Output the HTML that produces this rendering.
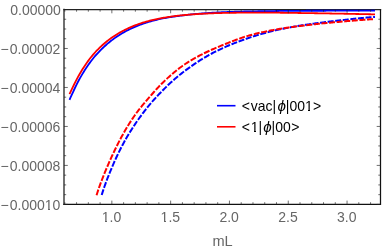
<!DOCTYPE html>
<html><head><meta charset="utf-8"><title>plot</title>
<style>html,body{margin:0;padding:0;background:#fff;}svg{display:block;will-change:transform;}</style></head>
<body>
<svg width="382" height="250" viewBox="0 0 382 250">
<rect width="382" height="250" fill="#fff"/>
<!-- frame -->
<path d="M64.0,204.4 V9.5" stroke="#222222" stroke-width="1.3" fill="none" stroke-linecap="square"/>
<path d="M64.0,9.5 H380.5" stroke="#222222" stroke-width="1.25" fill="none" stroke-linecap="square"/>
<path d="M64.0,204.4 H380.5 V9.5" stroke="#111111" stroke-width="1.25" fill="none" stroke-linecap="square"/>
<!-- data curves -->
<g fill="none" stroke-width="1.8" stroke-linejoin="round">
<path d="M69.50,99.77 L70.68,97.22 L71.86,94.64 L73.04,92.06 L74.22,89.50 L75.40,87.00 L76.58,84.57 L77.76,82.25 L78.94,80.03 L80.12,77.89 L81.30,75.84 L82.47,73.85 L83.65,71.92 L84.83,70.06 L86.01,68.25 L87.19,66.49 L88.37,64.79 L89.55,63.13 L90.73,61.53 L91.91,59.98 L93.09,58.48 L94.27,57.04 L95.45,55.65 L96.63,54.31 L97.81,53.02 L98.99,51.77 L100.17,50.56 L101.35,49.39 L102.53,48.24 L103.71,47.12 L104.89,46.03 L106.07,44.97 L107.25,43.94 L108.42,42.93 L109.60,41.96 L110.78,41.01 L111.96,40.10 L113.14,39.21 L114.32,38.36 L115.50,37.53 L116.68,36.73 L117.86,35.95 L119.04,35.19 L120.22,34.46 L121.40,33.75 L122.58,33.05 L123.76,32.38 L124.94,31.72 L126.12,31.08 L127.30,30.46 L128.48,29.86 L129.66,29.27 L130.84,28.71 L132.02,28.15 L133.19,27.62 L134.37,27.10 L135.55,26.60 L136.73,26.11 L137.91,25.63 L139.09,25.17 L140.27,24.73 L141.45,24.30 L142.63,23.88 L143.81,23.47 L144.99,23.08 L146.17,22.70 L147.35,22.33 L148.53,21.97 L149.71,21.62 L150.89,21.29 L152.07,20.96 L153.25,20.65 L154.43,20.34 L155.61,20.05 L156.79,19.76 L157.97,19.48 L159.14,19.22 L160.32,18.96 L161.50,18.71 L162.68,18.47 L163.86,18.24 L165.04,18.02 L166.22,17.81 L167.40,17.60 L168.58,17.41 L169.76,17.21 L170.94,17.03 L172.12,16.85 L173.30,16.68 L174.48,16.51 L175.66,16.34 L176.84,16.18 L178.02,16.02 L179.20,15.86 L180.38,15.71 L181.56,15.56 L182.74,15.41 L183.92,15.27 L185.09,15.12 L186.27,14.99 L187.45,14.85 L188.63,14.72 L189.81,14.59 L190.99,14.46 L192.17,14.34 L193.35,14.22 L194.53,14.10 L195.71,13.99 L196.89,13.89 L198.07,13.78 L199.25,13.68 L200.43,13.59 L201.61,13.49 L202.79,13.40 L203.97,13.31 L205.15,13.23 L206.33,13.14 L207.51,13.06 L208.69,12.99 L209.86,12.91 L211.04,12.83 L212.22,12.76 L213.40,12.69 L214.58,12.62 L215.76,12.55 L216.94,12.49 L218.12,12.43 L219.30,12.37 L220.48,12.31 L221.66,12.25 L222.84,12.19 L224.02,12.14 L225.20,12.09 L226.38,12.04 L227.56,12.00 L228.74,11.95 L229.92,11.91 L231.10,11.87 L232.28,11.83 L233.46,11.79 L234.64,11.76 L235.81,11.72 L236.99,11.69 L238.17,11.66 L239.35,11.63 L240.53,11.60 L241.71,11.57 L242.89,11.55 L244.07,11.52 L245.25,11.49 L246.43,11.47 L247.61,11.45 L248.79,11.43 L249.97,11.40 L251.15,11.38 L252.33,11.36 L253.51,11.34 L254.69,11.32 L255.87,11.31 L257.05,11.29 L258.23,11.27 L259.41,11.25 L260.58,11.23 L261.76,11.22 L262.94,11.20 L264.12,11.18 L265.30,11.17 L266.48,11.15 L267.66,11.13 L268.84,11.11 L270.02,11.10 L271.20,11.08 L272.38,11.06 L273.56,11.05 L274.74,11.03 L275.92,11.02 L277.10,11.00 L278.28,10.99 L279.46,10.97 L280.64,10.96 L281.82,10.94 L283.00,10.93 L284.18,10.92 L285.36,10.90 L286.53,10.89 L287.71,10.88 L288.89,10.87 L290.07,10.86 L291.25,10.85 L292.43,10.84 L293.61,10.83 L294.79,10.83 L295.97,10.82 L297.15,10.81 L298.33,10.81 L299.51,10.80 L300.69,10.79 L301.87,10.79 L303.05,10.78 L304.23,10.78 L305.41,10.78 L306.59,10.77 L307.77,10.77 L308.95,10.77 L310.13,10.76 L311.31,10.76 L312.48,10.76 L313.66,10.75 L314.84,10.75 L316.02,10.75 L317.20,10.74 L318.38,10.74 L319.56,10.74 L320.74,10.74 L321.92,10.73 L323.10,10.73 L324.28,10.73 L325.46,10.73 L326.64,10.72 L327.82,10.72 L329.00,10.72 L330.18,10.72 L331.36,10.71 L332.54,10.71 L333.72,10.71 L334.90,10.71 L336.08,10.70 L337.25,10.70 L338.43,10.70 L339.61,10.70 L340.79,10.70 L341.97,10.69 L343.15,10.69 L344.33,10.69 L345.51,10.69 L346.69,10.69 L347.87,10.69 L349.05,10.69 L350.23,10.68 L351.41,10.68 L352.59,10.68 L353.77,10.68 L354.95,10.68 L356.13,10.68 L357.31,10.68 L358.49,10.68 L359.67,10.68 L360.85,10.68 L362.03,10.68 L363.20,10.68 L364.38,10.68 L365.56,10.68 L366.74,10.68 L367.92,10.68 L369.10,10.68 L370.28,10.68 L371.46,10.69 L372.64,10.69 L373.82,10.69 L375.00,10.69" stroke="#0000ff"/>
<path d="M69.50,94.02 L70.68,91.58 L71.86,89.13 L73.04,86.68 L74.22,84.26 L75.40,81.89 L76.58,79.59 L77.76,77.38 L78.94,75.25 L80.12,73.20 L81.30,71.22 L82.47,69.31 L83.65,67.46 L84.83,65.67 L86.01,63.93 L87.19,62.26 L88.37,60.63 L89.55,59.06 L90.73,57.55 L91.91,56.08 L93.09,54.67 L94.27,53.31 L95.45,52.00 L96.63,50.73 L97.81,49.52 L98.99,48.34 L100.17,47.20 L101.35,46.10 L102.53,45.03 L103.71,43.99 L104.89,42.98 L106.07,41.99 L107.25,41.04 L108.42,40.12 L109.60,39.22 L110.78,38.35 L111.96,37.52 L113.14,36.71 L114.32,35.93 L115.50,35.17 L116.68,34.44 L117.86,33.73 L119.04,33.04 L120.22,32.37 L121.40,31.72 L122.58,31.08 L123.76,30.46 L124.94,29.86 L126.12,29.28 L127.30,28.71 L128.48,28.15 L129.66,27.62 L130.84,27.10 L132.02,26.59 L133.19,26.11 L134.37,25.63 L135.55,25.18 L136.73,24.74 L137.91,24.31 L139.09,23.89 L140.27,23.50 L141.45,23.11 L142.63,22.73 L143.81,22.37 L144.99,22.02 L146.17,21.69 L147.35,21.36 L148.53,21.04 L149.71,20.73 L150.89,20.44 L152.07,20.15 L153.25,19.87 L154.43,19.60 L155.61,19.34 L156.79,19.09 L157.97,18.85 L159.14,18.61 L160.32,18.38 L161.50,18.16 L162.68,17.95 L163.86,17.74 L165.04,17.54 L166.22,17.35 L167.40,17.16 L168.58,16.98 L169.76,16.81 L170.94,16.64 L172.12,16.47 L173.30,16.31 L174.48,16.16 L175.66,16.01 L176.84,15.87 L178.02,15.73 L179.20,15.60 L180.38,15.47 L181.56,15.35 L182.74,15.23 L183.92,15.11 L185.09,15.00 L186.27,14.89 L187.45,14.79 L188.63,14.69 L189.81,14.59 L190.99,14.50 L192.17,14.41 L193.35,14.33 L194.53,14.24 L195.71,14.16 L196.89,14.09 L198.07,14.01 L199.25,13.94 L200.43,13.87 L201.61,13.80 L202.79,13.74 L203.97,13.68 L205.15,13.62 L206.33,13.56 L207.51,13.51 L208.69,13.46 L209.86,13.41 L211.04,13.36 L212.22,13.31 L213.40,13.27 L214.58,13.22 L215.76,13.18 L216.94,13.14 L218.12,13.11 L219.30,13.07 L220.48,13.04 L221.66,13.00 L222.84,12.97 L224.02,12.94 L225.20,12.92 L226.38,12.89 L227.56,12.86 L228.74,12.84 L229.92,12.82 L231.10,12.80 L232.28,12.78 L233.46,12.76 L234.64,12.74 L235.81,12.73 L236.99,12.71 L238.17,12.70 L239.35,12.68 L240.53,12.67 L241.71,12.66 L242.89,12.65 L244.07,12.64 L245.25,12.63 L246.43,12.62 L247.61,12.61 L248.79,12.60 L249.97,12.60 L251.15,12.59 L252.33,12.59 L253.51,12.58 L254.69,12.58 L255.87,12.58 L257.05,12.58 L258.23,12.58 L259.41,12.58 L260.58,12.58 L261.76,12.58 L262.94,12.58 L264.12,12.59 L265.30,12.59 L266.48,12.60 L267.66,12.60 L268.84,12.61 L270.02,12.62 L271.20,12.63 L272.38,12.64 L273.56,12.65 L274.74,12.66 L275.92,12.68 L277.10,12.69 L278.28,12.70 L279.46,12.72 L280.64,12.73 L281.82,12.75 L283.00,12.76 L284.18,12.78 L285.36,12.80 L286.53,12.81 L287.71,12.83 L288.89,12.84 L290.07,12.86 L291.25,12.88 L292.43,12.89 L293.61,12.91 L294.79,12.93 L295.97,12.94 L297.15,12.96 L298.33,12.98 L299.51,13.00 L300.69,13.01 L301.87,13.03 L303.05,13.05 L304.23,13.06 L305.41,13.08 L306.59,13.10 L307.77,13.12 L308.95,13.14 L310.13,13.15 L311.31,13.17 L312.48,13.19 L313.66,13.21 L314.84,13.23 L316.02,13.25 L317.20,13.27 L318.38,13.28 L319.56,13.30 L320.74,13.32 L321.92,13.34 L323.10,13.36 L324.28,13.38 L325.46,13.40 L326.64,13.42 L327.82,13.45 L329.00,13.47 L330.18,13.49 L331.36,13.51 L332.54,13.53 L333.72,13.55 L334.90,13.57 L336.08,13.59 L337.25,13.61 L338.43,13.64 L339.61,13.66 L340.79,13.68 L341.97,13.70 L343.15,13.72 L344.33,13.75 L345.51,13.77 L346.69,13.79 L347.87,13.81 L349.05,13.84 L350.23,13.86 L351.41,13.88 L352.59,13.91 L353.77,13.93 L354.95,13.95 L356.13,13.98 L357.31,14.00 L358.49,14.02 L359.67,14.05 L360.85,14.07 L362.03,14.09 L363.20,14.12 L364.38,14.14 L365.56,14.16 L366.74,14.19 L367.92,14.21 L369.10,14.23 L370.28,14.26 L371.46,14.28 L372.64,14.30 L373.82,14.33 L375.00,14.35" stroke="#ff0000"/>
<path d="M375.00,16.99 L373.94,17.06 L372.89,17.13 L371.83,17.20 L370.77,17.28 L369.72,17.36 L368.66,17.44 L367.60,17.53 L366.55,17.62 L365.49,17.71 L364.43,17.80 L363.38,17.89 L362.32,17.99 L361.26,18.09 L360.21,18.19 L359.15,18.29 L358.09,18.40 L357.04,18.51 L355.98,18.61 L354.92,18.72 L353.86,18.84 L352.81,18.95 L351.75,19.06 L350.69,19.18 L349.64,19.29 L348.58,19.41 L347.52,19.53 L346.47,19.65 L345.41,19.76 L344.35,19.88 L343.30,20.00 L342.24,20.12 L341.18,20.24 L340.13,20.36 L339.07,20.48 L338.01,20.60 L336.96,20.72 L335.90,20.85 L334.84,20.97 L333.79,21.09 L332.73,21.22 L331.67,21.34 L330.62,21.47 L329.56,21.59 L328.50,21.72 L327.45,21.85 L326.39,21.98 L325.33,22.11 L324.28,22.24 L323.22,22.37 L322.16,22.51 L321.11,22.64 L320.05,22.78 L318.99,22.92 L317.94,23.06 L316.88,23.20 L315.82,23.34 L314.76,23.48 L313.71,23.63 L312.65,23.78 L311.59,23.93 L310.54,24.08 L309.48,24.23 L308.42,24.38 L307.37,24.54 L306.31,24.69 L305.25,24.85 L304.20,25.01 L303.14,25.17 L302.08,25.34 L301.03,25.51 L299.97,25.67 L298.91,25.84 L297.86,26.02 L296.80,26.19 L295.74,26.37 L294.69,26.55 L293.63,26.73 L292.57,26.92 L291.52,27.11 L290.46,27.30 L289.40,27.49 L288.35,27.69 L287.29,27.89 L286.23,28.09 L285.18,28.30 L284.12,28.50 L283.06,28.72 L282.01,28.93 L280.95,29.15 L279.89,29.38 L278.84,29.60 L277.78,29.83 L276.72,30.07 L275.66,30.31 L274.61,30.55 L273.55,30.80 L272.49,31.05 L271.44,31.30 L270.38,31.56 L269.32,31.83 L268.27,32.10 L267.21,32.37 L266.15,32.65 L265.10,32.94 L264.04,33.23 L262.98,33.52 L261.93,33.82 L260.87,34.13 L259.81,34.44 L258.76,34.75 L257.70,35.07 L256.64,35.39 L255.59,35.72 L254.53,36.05 L253.47,36.39 L252.42,36.73 L251.36,37.07 L250.30,37.42 L249.25,37.77 L248.19,38.13 L247.13,38.49 L246.08,38.85 L245.02,39.22 L243.96,39.59 L242.91,39.97 L241.85,40.35 L240.79,40.73 L239.74,41.12 L238.68,41.52 L237.62,41.92 L236.56,42.32 L235.51,42.73 L234.45,43.14 L233.39,43.56 L232.34,43.99 L231.28,44.42 L230.22,44.85 L229.17,45.29 L228.11,45.74 L227.05,46.19 L226.00,46.65 L224.94,47.12 L223.88,47.59 L222.83,48.07 L221.77,48.55 L220.71,49.04 L219.66,49.54 L218.60,50.05 L217.54,50.56 L216.49,51.08 L215.43,51.61 L214.37,52.15 L213.32,52.70 L212.26,53.25 L211.20,53.81 L210.15,54.38 L209.09,54.96 L208.03,55.55 L206.98,56.15 L205.92,56.76 L204.86,57.38 L203.81,58.00 L202.75,58.64 L201.69,59.29 L200.64,59.95 L199.58,60.62 L198.52,61.30 L197.46,61.98 L196.41,62.68 L195.35,63.39 L194.29,64.11 L193.24,64.84 L192.18,65.57 L191.12,66.32 L190.07,67.07 L189.01,67.83 L187.95,68.60 L186.90,69.38 L185.84,70.17 L184.78,70.96 L183.73,71.77 L182.67,72.58 L181.61,73.40 L180.56,74.24 L179.50,75.09 L178.44,75.95 L177.39,76.82 L176.33,77.70 L175.27,78.60 L174.22,79.52 L173.16,80.45 L172.10,81.40 L171.05,82.36 L169.99,83.33 L168.93,84.32 L167.88,85.32 L166.82,86.34 L165.76,87.37 L164.71,88.41 L163.65,89.46 L162.59,90.52 L161.54,91.60 L160.48,92.68 L159.42,93.78 L158.36,94.89 L157.31,96.02 L156.25,97.16 L155.19,98.31 L154.14,99.49 L153.08,100.68 L152.02,101.89 L150.97,103.12 L149.91,104.37 L148.85,105.63 L147.80,106.92 L146.74,108.23 L145.68,109.56 L144.63,110.92 L143.57,112.29 L142.51,113.69 L141.46,115.10 L140.40,116.55 L139.34,118.01 L138.29,119.50 L137.23,121.01 L136.17,122.55 L135.12,124.11 L134.06,125.69 L133.00,127.30 L131.95,128.93 L130.89,130.59 L129.83,132.29 L128.78,134.01 L127.72,135.78 L126.66,137.58 L125.61,139.42 L124.55,141.31 L123.49,143.24 L122.44,145.22 L121.38,147.24 L120.32,149.31 L119.26,151.41 L118.21,153.57 L117.15,155.77 L116.09,158.01 L115.04,160.31 L113.98,162.66 L112.92,165.06 L111.87,167.53 L110.81,170.05 L109.75,172.63 L108.70,175.26 L107.64,177.95 L106.58,180.70 L105.53,183.54 L104.47,186.50 L103.41,189.62 L102.36,192.92 L101.31,196.40" stroke="#0000ff" stroke-width="2.0" stroke-dasharray="6.0 1.62" stroke-dashoffset="4.1"/>
<path d="M373.00,19.16 L371.93,19.22 L370.86,19.29 L369.79,19.36 L368.73,19.43 L367.66,19.50 L366.59,19.57 L365.52,19.65 L364.45,19.73 L363.38,19.80 L362.31,19.88 L361.24,19.97 L360.18,20.05 L359.11,20.13 L358.04,20.22 L356.97,20.30 L355.90,20.39 L354.83,20.48 L353.76,20.57 L352.69,20.66 L351.63,20.75 L350.56,20.84 L349.49,20.94 L348.42,21.03 L347.35,21.12 L346.28,21.22 L345.21,21.31 L344.14,21.41 L343.08,21.50 L342.01,21.60 L340.94,21.70 L339.87,21.79 L338.80,21.89 L337.73,21.98 L336.66,22.08 L335.59,22.17 L334.53,22.27 L333.46,22.37 L332.39,22.46 L331.32,22.56 L330.25,22.66 L329.18,22.76 L328.11,22.86 L327.04,22.96 L325.98,23.06 L324.91,23.16 L323.84,23.27 L322.77,23.37 L321.70,23.48 L320.63,23.59 L319.56,23.70 L318.49,23.81 L317.43,23.92 L316.36,24.04 L315.29,24.15 L314.22,24.27 L313.15,24.39 L312.08,24.51 L311.01,24.64 L309.95,24.76 L308.88,24.89 L307.81,25.01 L306.74,25.14 L305.67,25.27 L304.60,25.40 L303.53,25.54 L302.46,25.67 L301.40,25.80 L300.33,25.94 L299.26,26.07 L298.19,26.21 L297.12,26.35 L296.05,26.49 L294.98,26.63 L293.91,26.77 L292.85,26.92 L291.78,27.06 L290.71,27.21 L289.64,27.36 L288.57,27.51 L287.50,27.67 L286.43,27.83 L285.36,27.99 L284.30,28.15 L283.23,28.31 L282.16,28.48 L281.09,28.65 L280.02,28.83 L278.95,29.00 L277.88,29.19 L276.81,29.37 L275.75,29.56 L274.68,29.75 L273.61,29.95 L272.54,30.15 L271.47,30.35 L270.40,30.56 L269.33,30.77 L268.26,30.98 L267.20,31.20 L266.13,31.42 L265.06,31.65 L263.99,31.88 L262.92,32.11 L261.85,32.34 L260.78,32.58 L259.72,32.82 L258.65,33.07 L257.58,33.32 L256.51,33.58 L255.44,33.84 L254.37,34.11 L253.30,34.38 L252.23,34.66 L251.17,34.95 L250.10,35.24 L249.03,35.54 L247.96,35.85 L246.89,36.16 L245.82,36.48 L244.75,36.82 L243.68,37.16 L242.62,37.51 L241.55,37.87 L240.48,38.24 L239.41,38.61 L238.34,38.99 L237.27,39.38 L236.20,39.78 L235.13,40.18 L234.07,40.59 L233.00,41.00 L231.93,41.41 L230.86,41.83 L229.79,42.25 L228.72,42.67 L227.65,43.10 L226.58,43.52 L225.52,43.95 L224.45,44.38 L223.38,44.81 L222.31,45.24 L221.24,45.67 L220.17,46.11 L219.10,46.55 L218.03,47.00 L216.97,47.44 L215.90,47.90 L214.83,48.35 L213.76,48.82 L212.69,49.28 L211.62,49.76 L210.55,50.24 L209.48,50.73 L208.42,51.22 L207.35,51.72 L206.28,52.23 L205.21,52.74 L204.14,53.27 L203.07,53.80 L202.00,54.33 L200.94,54.88 L199.87,55.43 L198.80,56.00 L197.73,56.57 L196.66,57.15 L195.59,57.73 L194.52,58.33 L193.45,58.94 L192.39,59.56 L191.32,60.19 L190.25,60.83 L189.18,61.48 L188.11,62.15 L187.04,62.83 L185.97,63.53 L184.90,64.24 L183.84,64.97 L182.77,65.71 L181.70,66.48 L180.63,67.26 L179.56,68.05 L178.49,68.87 L177.42,69.70 L176.35,70.55 L175.29,71.41 L174.22,72.29 L173.15,73.19 L172.08,74.10 L171.01,75.02 L169.94,75.96 L168.87,76.92 L167.80,77.88 L166.74,78.87 L165.67,79.87 L164.60,80.88 L163.53,81.92 L162.46,82.97 L161.39,84.03 L160.32,85.12 L159.25,86.23 L158.19,87.35 L157.12,88.50 L156.05,89.66 L154.98,90.85 L153.91,92.04 L152.84,93.26 L151.77,94.48 L150.71,95.71 L149.64,96.95 L148.57,98.19 L147.50,99.43 L146.43,100.68 L145.36,101.92 L144.29,103.18 L143.22,104.45 L142.16,105.73 L141.09,107.03 L140.02,108.36 L138.95,109.71 L137.88,111.10 L136.81,112.52 L135.74,113.98 L134.67,115.48 L133.61,117.01 L132.54,118.59 L131.47,120.19 L130.40,121.84 L129.33,123.52 L128.26,125.24 L127.19,127.00 L126.12,128.79 L125.06,130.62 L123.99,132.49 L122.92,134.39 L121.85,136.34 L120.78,138.32 L119.71,140.34 L118.64,142.40 L117.57,144.50 L116.51,146.64 L115.44,148.81 L114.37,151.01 L113.30,153.25 L112.23,155.53 L111.16,157.84 L110.09,160.20 L109.02,162.60 L107.96,165.05 L106.89,167.56 L105.82,170.11 L104.75,172.72 L103.68,175.37 L102.61,178.06 L101.54,180.81 L100.47,183.64 L99.41,186.58 L98.34,189.68 L97.27,192.96 L96.22,196.40" stroke="#ff0000" stroke-width="2.0" stroke-dasharray="6.0 1.62" stroke-dashoffset="0"/>
</g>
<!-- ticks -->
<path d="M64.81,204.4 v-2.2 M64.81,9.5 v2.2 M76.57,204.4 v-2.2 M76.57,9.5 v2.2 M88.33,204.4 v-2.2 M88.33,9.5 v2.2 M100.09,204.4 v-2.2 M100.09,9.5 v2.2 M111.85,204.4 v-3.8 M111.85,9.5 v3.8 M123.61,204.4 v-2.2 M123.61,9.5 v2.2 M135.37,204.4 v-2.2 M135.37,9.5 v2.2 M147.13,204.4 v-2.2 M147.13,9.5 v2.2 M158.89,204.4 v-2.2 M158.89,9.5 v2.2 M170.65,204.4 v-3.8 M170.65,9.5 v3.8 M182.41,204.4 v-2.2 M182.41,9.5 v2.2 M194.17,204.4 v-2.2 M194.17,9.5 v2.2 M205.93,204.4 v-2.2 M205.93,9.5 v2.2 M217.69,204.4 v-2.2 M217.69,9.5 v2.2 M229.45,204.4 v-3.8 M229.45,9.5 v3.8 M241.21,204.4 v-2.2 M241.21,9.5 v2.2 M252.97,204.4 v-2.2 M252.97,9.5 v2.2 M264.73,204.4 v-2.2 M264.73,9.5 v2.2 M276.49,204.4 v-2.2 M276.49,9.5 v2.2 M288.25,204.4 v-3.8 M288.25,9.5 v3.8 M300.01,204.4 v-2.2 M300.01,9.5 v2.2 M311.77,204.4 v-2.2 M311.77,9.5 v2.2 M323.53,204.4 v-2.2 M323.53,9.5 v2.2 M335.29,204.4 v-2.2 M335.29,9.5 v2.2 M347.05,204.4 v-3.8 M347.05,9.5 v3.8 M358.81,204.4 v-2.2 M358.81,9.5 v2.2 M370.57,204.4 v-2.2 M370.57,9.5 v2.2 M64.0,9.50 h3.8 M380.5,9.50 h-3.8 M64.0,19.25 h2.2 M380.5,19.25 h-2.2 M64.0,28.99 h2.2 M380.5,28.99 h-2.2 M64.0,38.73 h2.2 M380.5,38.73 h-2.2 M64.0,48.48 h3.8 M380.5,48.48 h-3.8 M64.0,58.23 h2.2 M380.5,58.23 h-2.2 M64.0,67.97 h2.2 M380.5,67.97 h-2.2 M64.0,77.72 h2.2 M380.5,77.72 h-2.2 M64.0,87.46 h3.8 M380.5,87.46 h-3.8 M64.0,97.20 h2.2 M380.5,97.20 h-2.2 M64.0,106.95 h2.2 M380.5,106.95 h-2.2 M64.0,116.70 h2.2 M380.5,116.70 h-2.2 M64.0,126.44 h3.8 M380.5,126.44 h-3.8 M64.0,136.19 h2.2 M380.5,136.19 h-2.2 M64.0,145.93 h2.2 M380.5,145.93 h-2.2 M64.0,155.68 h2.2 M380.5,155.68 h-2.2 M64.0,165.42 h3.8 M380.5,165.42 h-3.8 M64.0,175.16 h2.2 M380.5,175.16 h-2.2 M64.0,184.91 h2.2 M380.5,184.91 h-2.2 M64.0,194.66 h2.2 M380.5,194.66 h-2.2 M64.0,204.40 h3.8 M380.5,204.40 h-3.8" stroke="#222222" stroke-width="0.65" fill="none"/>
<!-- tick labels -->
<g font-family="Liberation Sans, sans-serif" font-size="14px" fill="#666666">
<text x="60.9" y="15.00" text-anchor="end">0.00000</text>
<text x="60.4" y="53.95" text-anchor="end">−<tspan dx="1.2">0.00002</tspan></text>
<text x="60.4" y="92.90" text-anchor="end">−<tspan dx="1.2">0.00004</tspan></text>
<text x="60.4" y="131.85" text-anchor="end">−<tspan dx="1.2">0.00006</tspan></text>
<text x="60.4" y="170.80" text-anchor="end">−<tspan dx="1.2">0.00008</tspan></text>
<text x="60.4" y="209.75" text-anchor="end">−<tspan dx="1.2">0.00010</tspan></text>
<text x="111.55" y="221.6" text-anchor="middle">1.0</text>
<text x="170.35" y="221.6" text-anchor="middle">1.5</text>
<text x="229.15" y="221.6" text-anchor="middle">2.0</text>
<text x="287.95" y="221.6" text-anchor="middle">2.5</text>
<text x="346.75" y="221.6" text-anchor="middle">3.0</text>
<text x="222.6" y="245.8" font-size="14.6px" text-anchor="middle">mL</text>
</g>
<!-- legend -->
<path d="M217,105.7 H235.5" stroke="#0000ff" stroke-width="1.6"/>
<path d="M217,126.8 H235.5" stroke="#ff0000" stroke-width="1.6"/>
<g font-family="Liberation Sans, sans-serif" font-size="14px" fill="#000">
<text x="241.8" y="110.9">&lt;</text>
<text transform="translate(250.68,110.7) scale(1,1.085)" >vac|</text>
<text x="277.4" y="110.9" font-style="italic" font-size="15.2px">ϕ</text>
<text transform="translate(285.8,110.7) scale(1,1.085)" >|001</text>
<text x="313.1" y="110.9">&gt;</text>
<text x="241.8" y="131.8">&lt;</text>
<text transform="translate(250.68,131.6) scale(1,1.085)" >1|</text>
<text x="263.2" y="131.8" font-style="italic" font-size="15.2px">ϕ</text>
<text transform="translate(271.6,131.6) scale(1,1.085)" >|00</text>
<text x="291.2" y="131.8">&gt;</text>
</g>
<!-- foot masks for digit 1 -->
<rect x="102" y="220" width="3" height="2" fill="#fff"/><rect x="107" y="220" width="3" height="2" fill="#fff"/>
<rect x="161" y="220" width="3" height="2" fill="#fff"/><rect x="166" y="220" width="3" height="2" fill="#fff"/>
<rect x="45" y="208" width="3" height="2" fill="#fff"/><rect x="50" y="208" width="3" height="2" fill="#fff"/>
<rect x="251" y="130" width="3" height="2" fill="#fff"/><rect x="256" y="130" width="3" height="2" fill="#fff"/>
<rect x="305" y="109" width="3" height="2" fill="#fff"/><rect x="310" y="109" width="3" height="2" fill="#fff"/>
</svg>
</body></html>
